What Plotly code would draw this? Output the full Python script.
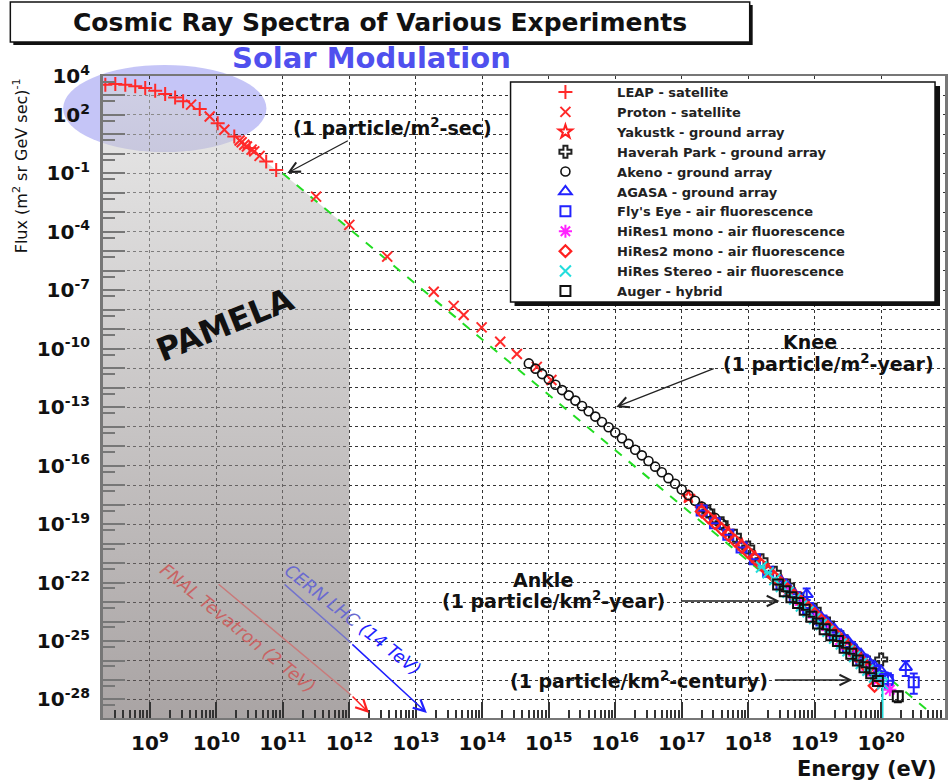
import numpy as np
import plotly.graph_objects as go

# ---------------- data (log10 energy [eV], log10 flux) ----------------
leap_log_e = [8.33, 8.48, 8.63, 8.78, 8.93, 9.08, 9.23, 9.38, 9.50, 9.75, 10.02, 10.27, 10.50, 10.75, 10.90]
leap_log_flux = [3.55, 3.59, 3.55, 3.47, 3.38, 3.24, 3.07, 2.90, 2.70, 2.30, 1.58, 0.90, 0.30, -0.39, -0.82]

proton_log_e = [9.62, 9.90, 10.12, 10.35, 10.38, 10.42, 10.46, 10.53, 10.57, 10.65, 11.50, 12.00,
                12.57, 13.27, 13.57, 13.72, 13.99, 14.27, 14.52, 14.82, 15.04]
proton_log_flux = [2.53, 1.92, 1.24, 0.69, 0.60, 0.47, 0.38, 0.22, 0.13, -0.10, -2.19, -3.64,
                   -5.27, -7.07, -7.80, -8.27, -8.90, -9.64, -10.27, -10.93, -11.60]

yakustk_log_e = [17.1, 17.3, 17.5, 17.7, 17.9, 18.1, 18.3, 18.5, 18.7, 18.9, 19.1, 19.3, 19.5, 19.7, 19.9]
yakustk_log_flux = [-17.60, -18.20, -18.80, -19.40, -20.05, -20.70, -21.35, -21.95, -22.60, -23.20,
                    -23.85, -24.55, -25.15, -25.90, -26.80]

haverah_log_e = [17.4, 17.6, 17.8, 18.0, 18.2, 18.4, 18.6, 18.8, 19.0, 19.2, 19.4, 19.6, 19.8, 20.0]
haverah_log_flux = [-18.35, -18.95, -19.60, -20.20, -20.85, -21.50, -22.15, -22.85, -23.40, -24.10,
                    -24.80, -25.50, -26.10, -25.95]

akeno_log_e = [14.7, 14.8, 14.9, 15.0, 15.1, 15.2, 15.3, 15.4, 15.5, 15.6, 15.7, 15.8, 15.9, 16.0,
               16.1, 16.2, 16.3, 16.4, 16.5, 16.6, 16.7, 16.8, 16.9, 17.0, 17.1, 17.2, 17.3, 17.4, 17.5, 17.6]
akeno_log_flux = [-10.75, -11.02, -11.30, -11.57, -11.85, -12.12, -12.39, -12.66, -12.94, -13.21,
                  -13.48, -13.76, -14.03, -14.30, -14.59, -14.88, -15.18, -15.47, -15.76, -16.05,
                  -16.34, -16.64, -16.93, -17.22, -17.51, -17.80, -18.10, -18.39, -18.68, -18.97]

agasa_log_e = [18.5, 18.6, 18.7, 18.8, 18.88, 19.0, 19.1, 19.2, 19.3, 19.4, 19.5, 19.6, 19.7, 19.8,
               19.9, 20.0, 20.1, 20.37]
agasa_log_flux = [-21.95, -22.25, -22.60, -22.95, -22.60, -23.45, -23.80, -24.10, -24.40, -24.70,
                  -25.00, -25.35, -25.70, -26.00, -26.30, -26.55, -26.90, -26.34]
agasa_err_up = [None, None, None, None, 0.30, None, None, None, None, None, None, None, None, None,
                None, None, 0.25, 0.30]
agasa_err_dn = [None, None, None, None, 0.30, None, None, None, None, None, None, None, None, None,
                None, None, 0.30, 0.45]

flyseye_log_e = [17.3, 17.5, 17.7, 17.9, 18.1, 18.3, 18.5, 18.7, 18.9, 19.1, 19.3, 19.5, 19.7, 19.9, 20.1, 20.49]
flyseye_log_flux = [-18.30, -18.95, -19.55, -20.20, -20.80, -21.45, -22.10, -22.75, -23.30, -23.95,
                    -24.65, -25.30, -25.95, -26.50, -27.00, -27.11]
flyseye_err_up = [None] * 13 + [0.20, 0.30, 0.45]
flyseye_err_dn = [None] * 13 + [0.20, 0.40, 0.60]

hires1_log_e = [18.6, 18.8, 19.0, 19.2, 19.4, 19.6, 19.8, 19.95, 20.13]
hires1_log_flux = [-22.45, -23.15, -23.80, -24.45, -25.15, -25.75, -26.50, -27.00, -27.50]

hires2_log_e = [17.3, 17.4, 17.5, 17.6, 17.7, 17.8, 17.9, 18.0, 18.1, 18.2, 18.3, 18.4, 18.5, 18.6,
                18.7, 18.8, 18.9, 19.0, 19.1, 19.2, 19.3, 19.4, 19.5, 19.6, 19.7, 19.8, 19.9]
hires2_log_flux = [-18.35, -18.65, -18.95, -19.25, -19.55, -19.85, -20.15, -20.45, -20.77, -21.10,
                   -21.42, -21.75, -22.05, -22.38, -22.70, -23.00, -23.30, -23.62, -23.95, -24.28,
                   -24.60, -24.95, -25.30, -25.65, -26.00, -26.40, -27.30]

stereo_log_e = [18.2, 18.3, 18.4, 18.5, 18.6, 18.7, 18.8, 18.9, 19.0, 19.1, 19.2, 19.3, 19.4, 19.5,
                19.6, 19.7, 19.8, 19.9, 20.02]
stereo_log_flux = [-21.20, -21.50, -21.85, -22.20, -22.50, -22.85, -23.20, -23.50, -23.85, -24.15,
                   -24.50, -24.85, -25.15, -25.50, -25.80, -26.15, -26.50, -26.85, -27.20]
stereo_err_up = [None] * 18 + [0.30]
stereo_err_dn = [None] * 18 + [3.00]

auger_log_e = [18.45, 18.55, 18.65, 18.75, 18.85, 18.95, 19.05, 19.15, 19.25, 19.35, 19.45, 19.55,
               19.65, 19.75, 19.85, 19.95, 20.25]
auger_log_flux = [-22.10, -22.45, -22.75, -23.05, -23.40, -23.75, -24.10, -24.40, -24.70, -25.00,
                  -25.35, -25.65, -26.00, -26.35, -26.65, -27.05, -27.84]
auger_err_up = [None] * 16 + [0.25]
auger_err_dn = [None] * 16 + [0.30]

# reference power law (green dashed)
guide_log_e = [11.0, 20.75]
guide_log_flux = [-1.0, -28.70]

# upper edge of the shaded "PAMELA" region
shade_log_e = [8.29, 8.33, 8.63, 8.93, 9.23, 9.50, 9.75, 10.02, 10.27, 10.50, 10.75, 10.90, 11.0, 12.0]
shade_log_flux = [3.55, 3.55, 3.55, 3.38, 3.07, 2.70, 2.30, 1.58, 0.90, 0.30, -0.39, -0.82, -1.0, -3.84]

x_tick_exps = list(range(9, 21))
y_tick_exps = list(range(-28, 5))
y_label_exps = [4, 2, -1, -4, -7, -10, -13, -16, -19, -22, -25, -28]

# ---------------- helpers ----------------
def p10(a):
    return [None if v is None else 10.0 ** v for v in a]

def errs(logy, up, dn):
    plus = [None if u is None else 10 ** y * (10 ** u - 1) for y, u in zip(logy, up)]
    minus = [None if d is None else 10 ** y * (1 - 10 ** (-d)) for y, d in zip(logy, dn)]
    return dict(type="data", symmetric=False, array=plus, arrayminus=minus,
                thickness=2, width=4)

L, R, T, B = 103, 948, 76, 718
def px(x):
    return (x - L) / (R - L)
def py(y):
    return (B - y) / (B - T)

fig = go.Figure()

# shaded region
fig.add_trace(go.Scatter(
    x=p10(shade_log_e + [12.0, 8.29]), y=p10(shade_log_flux + [-30.0, -30.0]),
    mode="lines", line=dict(width=0), fill="toself",
    fillgradient=dict(type="vertical",
                      colorscale=[[0, "rgba(98,88,88,0.56)"], [1, "rgba(215,215,215,0.55)"]]),
    showlegend=False, hoverinfo="skip"))

# green reference line
fig.add_trace(go.Scatter(x=p10(guide_log_e), y=p10(guide_log_flux), mode="lines",
                         line=dict(color="#22dd22", width=2, dash="dash"),
                         showlegend=False, hoverinfo="skip"))

PAD = "\u00a0" * 7

def add(name, lx, ly, symbol, color, size=9, lw=1.5, err=None):
    fig.add_trace(go.Scatter(
        x=p10(lx), y=p10(ly), mode="markers", name=PAD + name,
        marker=dict(symbol=symbol, size=size, color=color,
                    line=dict(color=color, width=lw)),
        error_y=err if err else dict(visible=False)))

add("LEAP - satellite", leap_log_e, leap_log_flux, "cross-thin", "#ff2a2a", 10, 2)
add("Proton - satellite", proton_log_e, proton_log_flux, "x-thin", "#ff2a2a", 10, 2)
add("Yakustk - ground array", yakustk_log_e, yakustk_log_flux, "star-open", "#ff2020", 10, 2)
add("Haverah Park - ground array", haverah_log_e, haverah_log_flux, "cross-open", "#222", 10, 2)
add("Akeno - ground array", akeno_log_e, akeno_log_flux, "circle-open", "#111", 9, 1.6)
add("AGASA - ground array", agasa_log_e, agasa_log_flux, "triangle-up-open", "#2222ff", 11, 2,
    errs(agasa_log_flux, agasa_err_up, agasa_err_dn) | dict(color="#2222ff"))
add("Fly's Eye - air fluorescence", flyseye_log_e, flyseye_log_flux, "square-open", "#2222ff", 10, 2,
    errs(flyseye_log_flux, flyseye_err_up, flyseye_err_dn) | dict(color="#2222ff"))
add("HiRes1 mono - air fluorescence", hires1_log_e, hires1_log_flux, "asterisk-open", "#ff22ff", 11, 2)
add("HiRes2 mono - air fluorescence", hires2_log_e, hires2_log_flux, "diamond-open", "#ff2020", 9, 2.2)
add("HiRes Stereo - air fluorescence", stereo_log_e, stereo_log_flux, "x-thin-open", "#22dddd", 11, 2,
    errs(stereo_log_flux, stereo_err_up, stereo_err_dn) | dict(color="#22dddd"))
add("Auger - hybrid", auger_log_e, auger_log_flux, "square-open", "#111", 10, 2,
    errs(auger_log_flux, auger_err_up, auger_err_dn) | dict(color="#111"))

# ---------------- axes ----------------
minor_x = [k * 10.0 ** n for n in range(8, 21) for k in range(2, 10)]
half_y = [5 * 10.0 ** n for n in range(-29, 4)]
unlabeled_y = [10.0 ** e for e in y_tick_exps if e not in y_label_exps]

TICKFONT = dict(family="DejaVu Sans", weight="bold", size=20, color="#111")
GRID = dict(showgrid=True, gridcolor="#333", griddash="dot", gridwidth=1)

fig.update_xaxes(
    type="log", range=[8.295, 20.96],
    tickvals=[10.0 ** e for e in x_tick_exps],
    ticktext=[f"10<sup>{e}</sup>" for e in x_tick_exps],
    ticks="inside", ticklen=16, tickwidth=2, tickcolor="#333",
    tickfont=TICKFONT, ticklabelstandoff=6,
    **GRID,
    showline=True, linecolor="#777", linewidth=2, mirror=True, zeroline=False,
    minor=dict(tickvals=minor_x, ticks="inside", ticklen=8, tickwidth=1.5,
               tickcolor="#333", showgrid=False))
fig.update_layout(yaxis=dict(
    type="log", range=[-28.95, 4.0],
    tickvals=[10.0 ** e for e in y_label_exps],
    ticktext=[f"10<sup>{e}</sup>" for e in y_label_exps],
    ticks="inside", ticklen=22, tickwidth=2, tickcolor="#777",
    tickfont=TICKFONT, ticklabelstandoff=6,
    **GRID,
    showline=True, linecolor="#777", linewidth=3, mirror=True, zeroline=False,
    minor=dict(tickvals=unlabeled_y, ticks="inside", ticklen=22, tickwidth=2,
               tickcolor="#777", showgrid=True, gridcolor="#333", griddash="dot", gridwidth=1)),
    yaxis2=dict(
    type="log", range=[-28.95, 4.0], overlaying="y", side="left", anchor="x",
    tickvals=half_y, ticks="inside", ticklen=12, tickwidth=2, tickcolor="#777",
    showticklabels=False, showgrid=False, zeroline=False, showline=False))
fig.add_trace(go.Scatter(x=[None], y=[None], yaxis="y2", showlegend=False, hoverinfo="skip"))

# ---------------- shapes ----------------
shapes = [
    dict(type="circle", xref="paper", yref="paper", layer="below",
         x0=px(63), x1=px(267), y0=py(152), y1=py(65),
         fillcolor="rgba(110,110,235,0.40)", line=dict(width=0)),
    dict(type="rect", xref="paper", yref="paper", x0=px(13), x1=px(755), y0=py(45), y1=py(5),
         fillcolor="#111", line=dict(width=0)),
    dict(type="rect", xref="paper", yref="paper", x0=px(10), x1=px(752), y0=py(42), y1=py(2),
         fillcolor="white", line=dict(color="#111", width=1.5)),
    dict(type="rect", xref="paper", yref="paper", x0=px(516), x1=px(943), y0=py(306), y1=py(86),
         fillcolor="#111", line=dict(width=0)),
    dict(type="rect", xref="paper", yref="paper", x0=px(512), x1=px(938), y0=py(302), y1=py(82),
         fillcolor="white", line=dict(color="#111", width=1.5)),
]

# ---------------- annotations ----------------
ann = []
def text(t, x, y, size, color="#111", weight="bold", angle=0, style="normal"):
    ann.append(dict(text=t, xref="paper", yref="paper", x=px(x), y=py(y),
                    xanchor="center", yanchor="middle", showarrow=False, textangle=angle,
                    font=dict(family="DejaVu Sans", size=size, color=color, weight=weight, style=style)))

def arrow(x0, y0, x1, y1, color="#222", head=5, width=1.3, size=1.6):
    ann.append(dict(text="", xref="paper", yref="paper", x=px(x1), y=py(y1),
                    ax=x0 - x1, ay=y0 - y1, axref="pixel", ayref="pixel",
                    showarrow=True, arrowhead=head, arrowcolor=color, arrowwidth=width,
                    arrowsize=size, standoff=0))

text("Cosmic Ray Spectra of Various Experiments", 381, 22, 25)
text("Solar Modulation", 372, 58, 29, color="#5050ee")
text("(1 particle/m<sup>2</sup>-sec)", 394, 127, 19)
arrow(350, 140, 288, 173)
text("Knee", 813, 342, 19)
text("(1 particle/m<sup>2</sup>-year)", 831, 363, 19)
arrow(717, 368, 618, 407)
text("Ankle", 545, 580, 19)
text("(1 particle/km<sup>2</sup>-year)", 555, 600, 19)
arrow(682, 601, 782, 601)
text("(1 particle/km<sup>2</sup>-century)", 641, 680, 19)
arrow(776, 680, 855, 680)
text("PAMELA", 225, 325, 32, angle=-22)

# accelerator reach lines
arrow(218, 583, 352, 695, color="#c97a7a", head=0, width=1.5)
arrow(352, 695, 370, 713, color="#ff2020", head=5, width=1.5, size=1.5)
text("FNAL Tevatron (2 TeV)", 238, 628, 17.5, color="#c86464", weight="normal", angle=39, style="italic")
arrow(284, 583, 352, 643, color="#7474cc", head=0, width=1.5)
arrow(352, 643, 428, 713, color="#1f1fff", head=5, width=1.5, size=1.5)
text("<span style='color:#6a6ad0'>CERN LHC</span> (14 TeV)", 354, 620, 17.5, color="#1f1fff",
     weight="normal", angle=38, style="italic")

# axis titles
text("Flux (m<sup>2</sup> sr GeV sec)<sup>-1</sup>", 20, 166, 16, weight="normal", angle=-90)
text("Energy (eV)", 870, 769, 21)

fig.update_layout(
    width=951, height=780, autosize=False,
    margin=dict(l=L, r=951 - R, t=T, b=780 - B),
    paper_bgcolor="white", plot_bgcolor="rgba(0,0,0,0)",
    font=dict(family="DejaVu Sans", color="#111"),
    shapes=shapes, annotations=ann,
    showlegend=True,
    legend=dict(x=px(547), y=py(77), xanchor="left", yanchor="top",
                bgcolor="rgba(0,0,0,0)", borderwidth=0, tracegroupgap=0,
                font=dict(family="DejaVu Sans", weight="bold", size=13, color="#222")),
)

fig.write_html("out.html")
